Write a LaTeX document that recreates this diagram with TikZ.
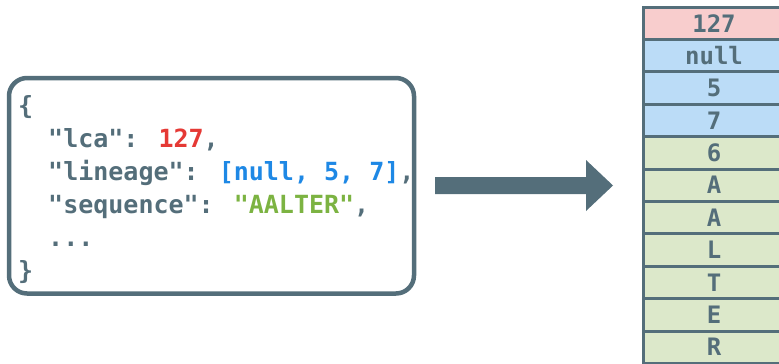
\documentclass[tikz,border=0pt]{standalone}
\usepackage{fontspec}
\newfontfamily\codefont{DejaVu Sans Mono}
\definecolor{slate}{HTML}{546E7A}
\definecolor{codered}{HTML}{E53935}
\definecolor{codeblue}{HTML}{1E88E5}
\definecolor{codegreen}{HTML}{7CB342}
\definecolor{fillred}{HTML}{F8CDCD}
\definecolor{fillblue}{HTML}{BBDCF7}
\definecolor{fillgreen}{HTML}{DCE8CA}
\begin{document}
\begin{tikzpicture}[x=1pt,y=-1pt,
  codeline/.style={anchor=base west, inner sep=0pt, text=slate,
    font=\codefont\bfseries\fontsize{25}{30}\selectfont},
  cell/.style={draw=slate, line width=3pt, minimum width=142pt,
    minimum height=32.4pt, inner sep=0pt, text=slate,
    font=\codefont\bfseries\fontsize{24}{28}\selectfont},
  jsonbox/.style={draw=slate, line width=4.5pt, rounded corners=18pt}]
\useasboundingbox (0,0) rectangle (779,364);
% JSON box
\draw[jsonbox] (9,78) rectangle (414,293.5);
\node[codeline] (l1) at (18,114) {\{};
\node[codeline] (l2) at (48,147) {"lca": \textcolor{codered}{127},};
\node[codeline] (l3) at (48,180) {"lineage": \textcolor{codeblue}{[null, 5, 7]},};
\node[codeline] (l4) at (48,213) {"sequence": \textcolor{codegreen}{"AALTER"},};
\node[codeline] (l5) at (48,246) {...};
\node[codeline] (l6) at (18,279) {\}};
% arrow
\fill[slate] (435,177) -- (586,177) -- (586,160) -- (613,185.5) -- (586,211)
  -- (586,194) -- (435,194) -- cycle;
% table
\foreach \i/\t/\c in {0/127/fillred,1/null/fillblue,2/5/fillblue,3/7/fillblue,
  4/6/fillgreen,5/A/fillgreen,6/A/fillgreen,7/L/fillgreen,8/T/fillgreen,
  9/E/fillgreen,10/R/fillgreen}{
  \node[cell, fill=\c] (r\i) at (714, 23.2+32.4*\i) {\t};
}
\end{tikzpicture}
\end{document}
